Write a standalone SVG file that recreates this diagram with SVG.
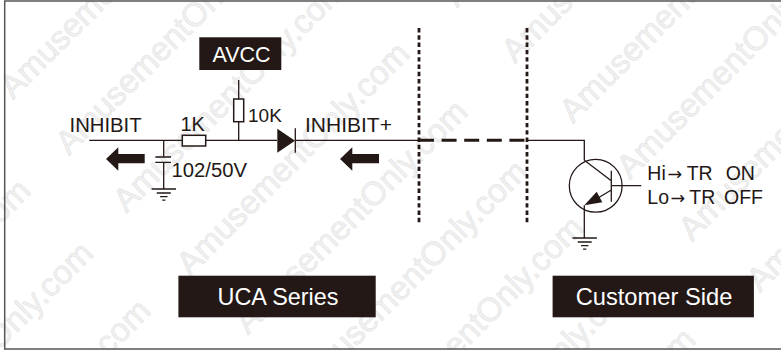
<svg xmlns="http://www.w3.org/2000/svg" width="781" height="350" viewBox="0 0 781 350">
<style>
text{font-family:"Liberation Sans",Arial,sans-serif;fill:#231815}
text.wm{font-size:33px;fill:#f0f0f0;stroke:#e2e2e2;stroke-width:.5}
.w{fill:none;stroke:#231815;stroke-width:1.3}
.r{fill:#fff;stroke:#231815;stroke-width:1.5}
.box{fill:#231815}
text.lt{fill:#fff}
.dot{fill:none;stroke:#231815;stroke-width:2.8;stroke-dasharray:4.4 2.9}
.dash{fill:none;stroke:#231815;stroke-width:3;stroke-dasharray:15 7.6}
.k{fill:#231815}
.ar{font-family:"DejaVu Sans",sans-serif;font-size:17.5px}
</style>
<defs><g id="gnd"><path class="w" d="M-12.2 0H12.2M-7 4H7M-3.7 7.6H3.7M-1.6 11.2H1.6"/></g></defs>
<rect width="781" height="350" fill="#fff"/>
<g id="watermark">
<text class="wm" transform="translate(13 100) rotate(-45)">AmusementOnly.com</text>
<text class="wm" transform="translate(69 156) rotate(-45)">AmusementOnly.com</text>
<text class="wm" transform="translate(126.5 213.5) rotate(-45)">AmusementOnly.com</text>
<text class="wm" transform="translate(190 277) rotate(-45)">AmusementOnly.com</text>
<text class="wm" transform="translate(248 335) rotate(-45)">AmusementOnly.com</text>
<text class="wm" transform="translate(308 395) rotate(-45)">AmusementOnly.com</text>
<text class="wm" transform="translate(364 451) rotate(-45)">AmusementOnly.com</text>
<text class="wm" transform="translate(420 507) rotate(-45)">AmusementOnly.com</text>
<text class="wm" transform="translate(476 563) rotate(-45)">AmusementOnly.com</text>
<text class="wm" transform="translate(457 8) rotate(-45)">AmusementOnly.com</text>
<text class="wm" transform="translate(515 64) rotate(-45)">AmusementOnly.com</text>
<text class="wm" transform="translate(573 124) rotate(-45)">AmusementOnly.com</text>
<text class="wm" transform="translate(630 180) rotate(-45)">AmusementOnly.com</text>
<text class="wm" transform="translate(692 242) rotate(-45)">AmusementOnly.com</text>
<text class="wm" transform="translate(760 293) rotate(-45)">AmusementOnly.com</text>
<text class="wm" transform="translate(-189 414) rotate(-45)">AmusementOnly.com</text>
<text class="wm" transform="translate(-126.5 476.5) rotate(-45)">AmusementOnly.com</text>
<text class="wm" transform="translate(-69 534) rotate(-45)">AmusementOnly.com</text>
</g>
<path id="frame" d="M781 1H4.7V349H781" fill="none" stroke="#555" stroke-width="1.5"/>
<g id="connectors">
<path class="w" d="M89.3 140.3H182M205.7 140.3H277M295 140.3H420M527 140.3H584.3V160.3"/>
<path class="w" d="M238.7 80V99M238.7 121.7V140.3"/>
<path class="w" d="M163.7 140.3V157M163.7 162.3V189"/>
<path class="w" d="M584.3 205.3V238"/>
<path class="dash" d="M419 140.3H527"/>
<path class="dot" d="M419 28V223"/>
<path class="dot" d="M527 28V223"/>
</g>
<g id="avcc"><rect class="box" x="199.3" y="37.3" width="82" height="32.7"/><text class="lt" x="241.5" y="61.7" font-size="21.5" text-anchor="middle">AVCC</text></g>
<g id="inhibit-label"><text x="69.5" y="132.3" font-size="20.3">INHIBIT</text><path class="k" d="M106 159L118.3 147.3V154H144.7V163.3H118.3V170.7Z"/></g>
<g id="r1k"><rect class="r" x="182.3" y="135.3" width="23.4" height="10.7"/><text x="180.5" y="131" font-size="20">1K</text></g>
<g id="r10k"><rect class="r" x="233.7" y="99" width="10" height="22.7"/><text x="248" y="121.7" font-size="19">10K</text></g>
<g id="cap"><path class="w" d="M155.3 157H171M155.3 162.3H171"/><text x="171.5" y="176.7" font-size="20.3">102/50V</text><use href="#gnd" x="163.8" y="189"/></g>
<g id="diode"><path class="k" d="M277.3 128.7L295 140.7L277.3 152.7Z"/><path class="w" d="M295.3 128.3V152.7"/></g>
<g id="inhibit-plus"><text x="305" y="132.3" font-size="21">INHIBIT+</text><path class="k" d="M340 159L352.3 147.3V154H379V163.3H352.3V170.7Z"/></g>
<g id="transistor">
<circle class="w" cx="595.7" cy="185.8" r="26.4"/>
<path class="w" d="M611.3 170.7V201.7M611.3 185.7H641.3M584.3 160.3L611.3 180.7M611.3 190L598 198"/>
<path class="k" d="M584.3 205.3L596.7 191.7L602.3 202.3Z"/>
<use href="#gnd" x="584.7" y="238"/>
<text x="647.3" y="180" font-size="19.5">Hi<tspan class="ar" x="667.5">→</tspan><tspan x="686.7">TR</tspan><tspan x="725.7">ON</tspan></text>
<text x="647.3" y="204.3" font-size="19.5">Lo<tspan class="ar" x="670.5">→</tspan><tspan x="689.3">TR</tspan><tspan x="724">OFF</tspan></text>
</g>
<g id="uca"><rect class="box" x="178.4" y="275.7" width="197.3" height="41.6"/><text class="lt" x="278" y="305" font-size="23.4" text-anchor="middle">UCA Series</text></g>
<g id="customer"><rect class="box" x="552.6" y="275.7" width="201.3" height="41.6"/><text class="lt" x="654" y="305" font-size="23.7" text-anchor="middle">Customer Side</text></g>
</svg>
